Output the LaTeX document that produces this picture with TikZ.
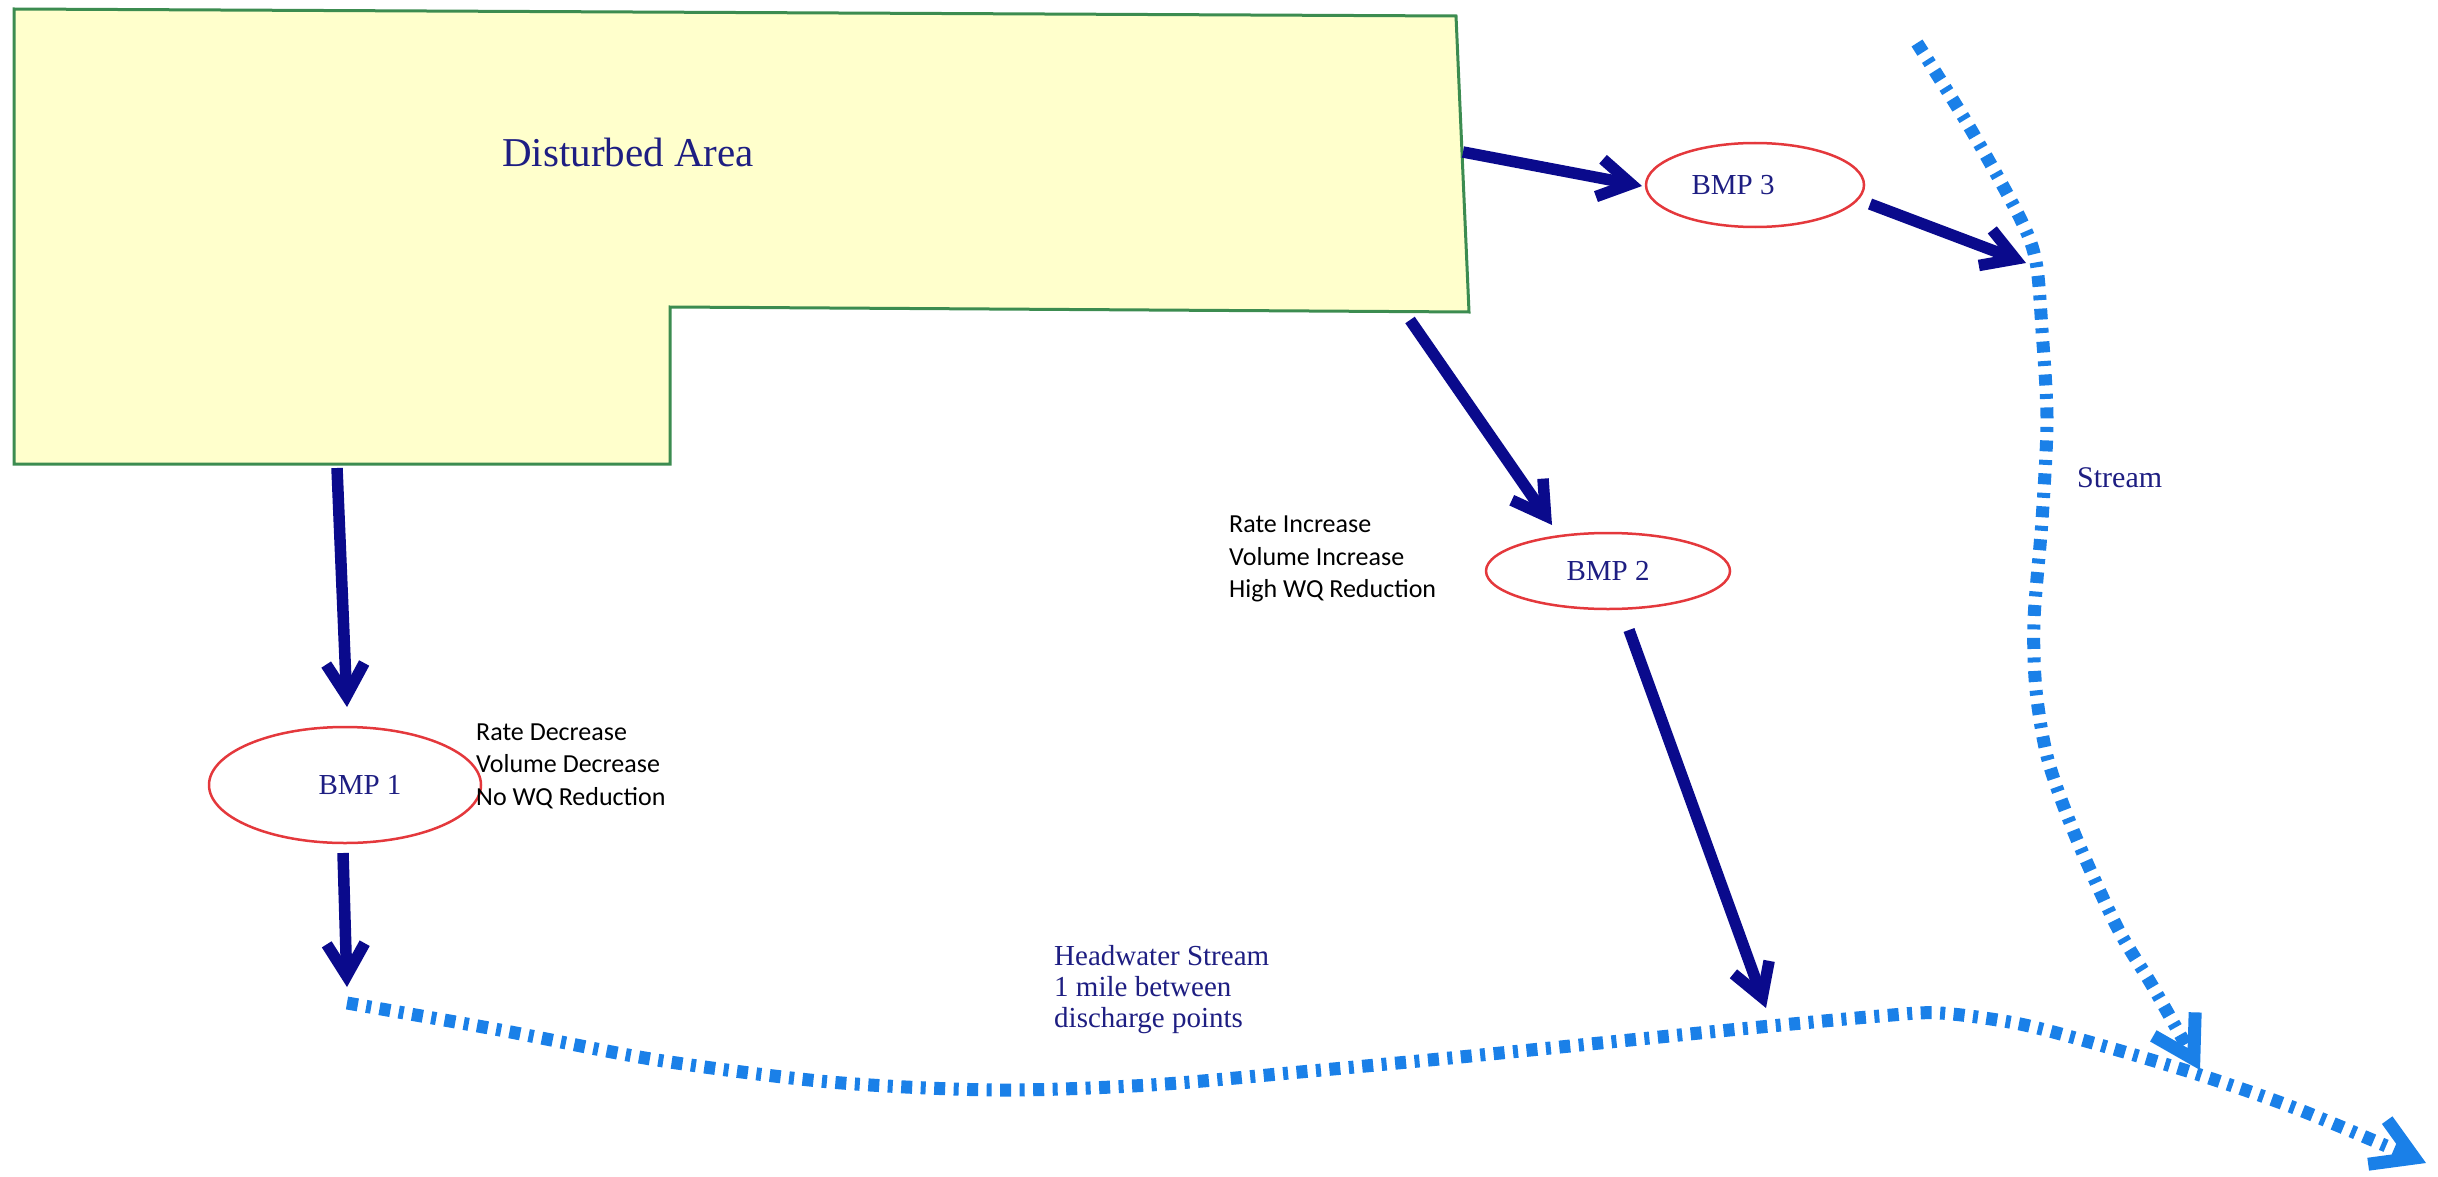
\documentclass[tikz,border=0pt]{standalone}
\usepackage{fontspec}
\setmainfont{Liberation Serif}
\newfontfamily\annofont{Carlito}
\usetikzlibrary{arrows.meta,shapes.geometric}
\definecolor{areafill}{RGB}{255,255,204}
\definecolor{areadraw}{RGB}{60,140,80}
\definecolor{navytext}{RGB}{30,30,130}
\definecolor{arrowblue}{RGB}{10,10,140}
\definecolor{bmpred}{RGB}{228,56,60}
\definecolor{streamblue}{RGB}{26,128,232}
\tikzset{
  arr/.style={draw=arrowblue, line width=11.5pt, -{Straight Barb[length=32pt,width=38pt]}},
  streamline/.style={draw=streamblue, line width=13pt, dash pattern=on 11pt off 8.5pt on 5pt off 8.5pt, -{Straight Barb[length=40pt,width=48pt]}},
  bmp/.style={ellipse, draw=bmpred, line width=2.5pt, fill=white, inner sep=0pt, font=\fontsize{29}{34}\selectfont, text=navytext},
  anno/.style={anchor=west, align=left, inner sep=0pt, font=\annofont\fontsize{26}{32.5}\selectfont, text=black},
  lbl/.style={text=navytext, inner sep=0pt}
}
\begin{document}
\begin{tikzpicture}[x=1pt,y=-1pt]
\useasboundingbox (0,0) rectangle (2438,1177);
% disturbed area
\draw[areadraw, fill=areafill, line width=3pt, line join=miter]
  (14,9) -- (1456,16) -- (1469,312) -- (670,307) -- (670,464) -- (14,464) -- cycle;
\node[lbl, font=\fontsize{41}{48}\selectfont] (area) at (628,152) {Disturbed Area};

% BMPs
\node[bmp, minimum width=272pt, minimum height=116pt] (bmp1) at (345,785) {\hspace*{30pt}BMP 1};
\node[bmp, minimum width=244pt, minimum height=76pt] (bmp2) at (1608,571) {BMP 2};
\node[bmp, minimum width=218pt, minimum height=84pt] (bmp3) at (1755,185) {BMP 3\hspace*{44pt}};

% annotations
\node[anno] (note1) at (476,766) {Rate Decrease\\Volume Decrease\\No WQ Reduction};
\node[anno] (note2) at (1229,559) {Rate Increase\\Volume Increase\\High WQ Reduction};
\node[lbl, anchor=west, font=\fontsize{30}{34}\selectfont] (streamlbl) at (2077,478) {Stream};
\node[lbl, anchor=west, align=left, font=\fontsize{29}{31}\selectfont] (hwlbl) at (1054,990) {Headwater Stream\\1 mile between\\discharge points};

% arrow end points
\coordinate (a1s) at (337,468);  \coordinate (a1e) at (347,707);
\coordinate (a2s) at (343,853);  \coordinate (a2e) at (347,987);
\coordinate (a3s) at (1410,320); \coordinate (a3e) at (1552,525);
\coordinate (a4s) at (1629,630); \coordinate (a4e) at (1766,1008);
\coordinate (a5s) at (1463,152); \coordinate (a5e) at (1642,186);
\coordinate (a6s) at (1870,204); \coordinate (a6e) at (2026,263);

\draw[arr] (a1s) -- (a1e);
\draw[arr] (a2s) -- (a2e);
\draw[arr] (a3s) -- (a3e);
\draw[arr] (a4s) -- (a4e);
\draw[arr] (a5s) -- (a5e);
\draw[arr] (a6s) -- (a6e);

% streams
\draw[streamline] plot[smooth, tension=0.5] coordinates {
  (347,1003) (500,1030) (657,1060) (830,1082) (996,1090) (1150,1085)
  (1300,1072) (1450,1058) (1600,1043) (1750,1028) (1880,1016) (1940,1013)
  (2020,1024) (2100,1045) (2200,1075) (2300,1110) (2426,1163)};
\draw[streamline] plot[smooth, tension=0.5] coordinates {
  (1917,43) (1970,128) (2020,218) (2036,262) (2042,330) (2047,420)
  (2042,520) (2034,620) (2036,690) (2048,760) (2075,835) (2117,927)
  (2153,987) (2200,1070)};
\end{tikzpicture}
\end{document}
